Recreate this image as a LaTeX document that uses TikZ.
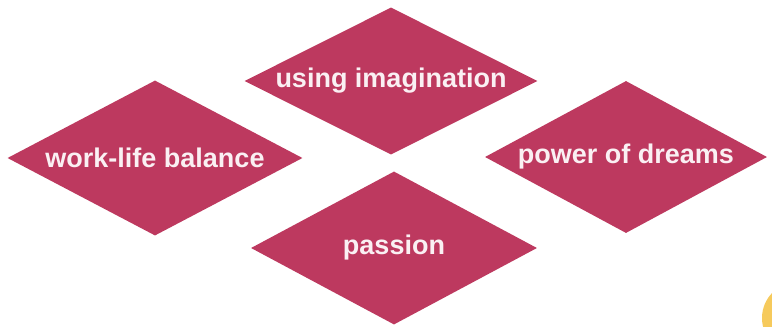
\documentclass[tikz,border=0pt]{standalone}
\usepackage{fontspec}
\setmainfont{Liberation Sans}
\usetikzlibrary{shapes.geometric}
\definecolor{rose}{RGB}{189,57,95}
\definecolor{paletext}{RGB}{250,240,243}
\definecolor{sunny}{RGB}{246,202,92}
\tikzset{
  gem/.style={diamond, fill=rose, draw=none, inner sep=0pt, aspect=2,
    text=paletext, font=\fontsize{27}{32}\selectfont\bfseries}
}
\begin{document}
\begin{tikzpicture}[x=1pt,y=-1pt]
\useasboundingbox (0,0) rectangle (772,327);
\fill[white] (0,0) rectangle (772,327);
\node[gem, minimum width=293pt, minimum height=147pt] (imag) at (391,81) {using imagination};
\node[gem, minimum width=295pt, minimum height=155pt] (work) at (155,158) {work-life balance};
\node[gem, minimum width=282pt, minimum height=152pt] (dreams) at (626,157) {power of dreams};
\node[gem, minimum width=286pt, minimum height=153pt] (passion) at (394,248) {passion};
\begin{scope}
\clip (0,0) rectangle (772,327);
\fill[sunny] (798,318) circle (36pt);
\end{scope}
\end{tikzpicture}
\end{document}
